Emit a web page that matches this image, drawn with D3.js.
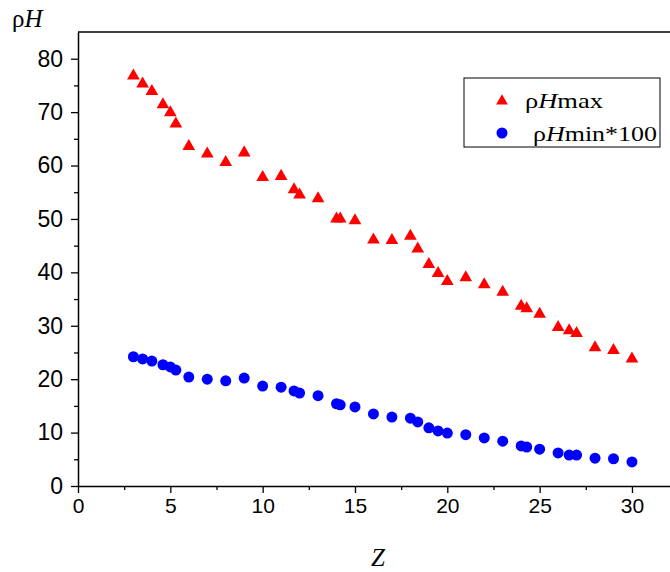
<!DOCTYPE html>
<html>
<head>
<meta charset="utf-8">
<script src="https://cdn.jsdelivr.net/npm/d3@7"></script>
<style>
  body { margin: 0; background: #fff; }
  svg { display: block; }
</style>
</head>
<body>
<div id="chart"></div>
<script>
// data
var zValues = [3, 3.5, 4, 4.6, 5, 5.3, 6, 7, 8, 9, 10, 11, 11.7, 12, 13, 14, 14.2, 15, 16, 17,
  18, 18.4, 19, 19.5, 20, 21, 22, 23, 24, 24.3, 25, 26, 26.6, 27, 28, 29, 30];
var rhoHmax = [76.8, 75.3, 73.9, 71.4, 69.9, 67.8, 63.6, 62.2, 60.6, 62.4, 57.8, 58.0, 55.5, 54.5, 53.8, 50.0, 50.0, 49.7, 46.1, 46.0,
  46.8, 44.4, 41.5, 39.8, 38.3, 39.0, 37.7, 36.3, 33.7, 33.2, 32.2, 29.7, 29.1, 28.6, 25.9, 25.4, 23.8];
var rhoHmin100 = [24.2, 23.8, 23.4, 22.7, 22.3, 21.7, 20.4, 20.0, 19.7, 20.2, 18.7, 18.5, 17.8, 17.4, 16.9, 15.4, 15.2, 14.8, 13.5, 12.9,
  12.7, 12.0, 10.9, 10.3, 9.9, 9.6, 9.0, 8.4, 7.5, 7.3, 6.9, 6.2, 5.8, 5.8, 5.2, 5.1, 4.5];
var xTicks = [0, 5, 10, 15, 20, 25, 30];
var yTicks = [0, 10, 20, 30, 40, 50, 60, 70, 80];

var width = 670, height = 572;
var margin = {top: 32, right: 0, bottom: 86, left: 78};

var svg = d3.select("#chart")
  .append("svg")
    .attr("width", width)
    .attr("height", height);

var x = d3.scaleLinear()
  .domain([0, 32.06])
  .range([margin.left, width - margin.right]);

var y = d3.scaleLinear()
  .domain([0, 85])
  .range([height - margin.bottom, margin.top]);

// top frame line
svg.append("line")
  .attr("x1", margin.left).attr("x2", width)
  .attr("y1", margin.top).attr("y2", margin.top)
  .attr("stroke", "#000").attr("stroke-width", 1.5);

// minor ticks
var xMinor = d3.range(2.5, 32, 5);
var yMinor = d3.range(5, 85, 10);

var gx = svg.append("g")
  .attr("transform", `translate(0,${y(0)})`)
  .call(d3.axisBottom(x).tickValues(xTicks).tickSize(7).tickPadding(5).tickSizeOuter(0));
svg.append("g")
  .attr("transform", `translate(0,${y(0)})`)
  .call(d3.axisBottom(x).tickValues(xMinor).tickSize(4).tickFormat("").tickSizeOuter(0))
  .select(".domain").remove();

var gy = svg.append("g")
  .attr("transform", `translate(${x(0)},0)`)
  .call(d3.axisLeft(y).tickValues(yTicks).tickSize(7).tickPadding(8).tickSizeOuter(0));
svg.append("g")
  .attr("transform", `translate(${x(0)},0)`)
  .call(d3.axisLeft(y).tickValues(yMinor).tickSize(4).tickFormat("").tickSizeOuter(0))
  .select(".domain").remove();

svg.selectAll(".domain").attr("stroke-width", 1.5);
svg.selectAll(".tick line").attr("stroke-width", 1.3);
svg.selectAll(".tick text")
  .style("font-family", "'Liberation Sans', Arial, sans-serif")
  .attr("fill", "#000");
gx.selectAll(".tick text").style("font-size", "21px");
gy.selectAll(".tick text").style("font-size", "23px");

// red triangles
svg.selectAll("path.maxpt")
  .data(zValues)
  .join("path")
    .attr("class", "maxpt")
    .attr("d", d3.symbol().type(d3.symbolTriangle).size(70))
    .attr("transform", (d, i) => `translate(${x(d)},${y(rhoHmax[i])})`)
    .attr("fill", "#ff0000");

// blue circles
svg.selectAll("circle.minpt")
  .data(zValues)
  .join("circle")
    .attr("class", "minpt")
    .attr("cx", d => x(d))
    .attr("cy", (d, i) => y(rhoHmin100[i]))
    .attr("r", 5.5)
    .attr("fill", "#0000ff");

// axis titles
var yTitle = svg.append("text")
  .attr("x", 12).attr("y", 27)
  .style("font-family", "'Liberation Serif', 'Times New Roman', serif")
  .style("font-size", "25px");
yTitle.append("tspan").text("ρ");
yTitle.append("tspan").style("font-style", "italic").text("H");

svg.append("text")
  .attr("x", 378).attr("y", 566)
  .attr("text-anchor", "middle")
  .style("font-family", "'Liberation Serif', 'Times New Roman', serif")
  .style("font-style", "italic")
  .style("font-size", "25px")
  .text("Z");

// legend
var legend = svg.append("g");
legend.append("rect")
  .attr("x", 464).attr("y", 78)
  .attr("width", 196).attr("height", 69)
  .attr("fill", "#fff").attr("stroke", "#000").attr("stroke-width", 1);

legend.append("path")
  .attr("d", d3.symbol().type(d3.symbolTriangle).size(60))
  .attr("transform", "translate(502,101)")
  .attr("fill", "#ff0000");
legend.append("circle")
  .attr("cx", 502).attr("cy", 133).attr("r", 5.5)
  .attr("fill", "#0000ff");

var t1 = legend.append("text")
  .attr("x", 525).attr("y", 108)
  .style("font-family", "'Liberation Serif', 'Times New Roman', serif")
  .style("font-size", "22px")
  .attr("textLength", 78).attr("lengthAdjust", "spacingAndGlyphs");
t1.append("tspan").text("ρ");
t1.append("tspan").style("font-style", "italic").text("H");
t1.append("tspan").text("max");

var t2 = legend.append("text")
  .attr("x", 533).attr("y", 141)
  .style("font-family", "'Liberation Serif', 'Times New Roman', serif")
  .style("font-size", "22px")
  .attr("textLength", 124).attr("lengthAdjust", "spacingAndGlyphs");
t2.append("tspan").text("ρ");
t2.append("tspan").style("font-style", "italic").text("H");
t2.append("tspan").text("min*100");
</script>
</body>
</html>
